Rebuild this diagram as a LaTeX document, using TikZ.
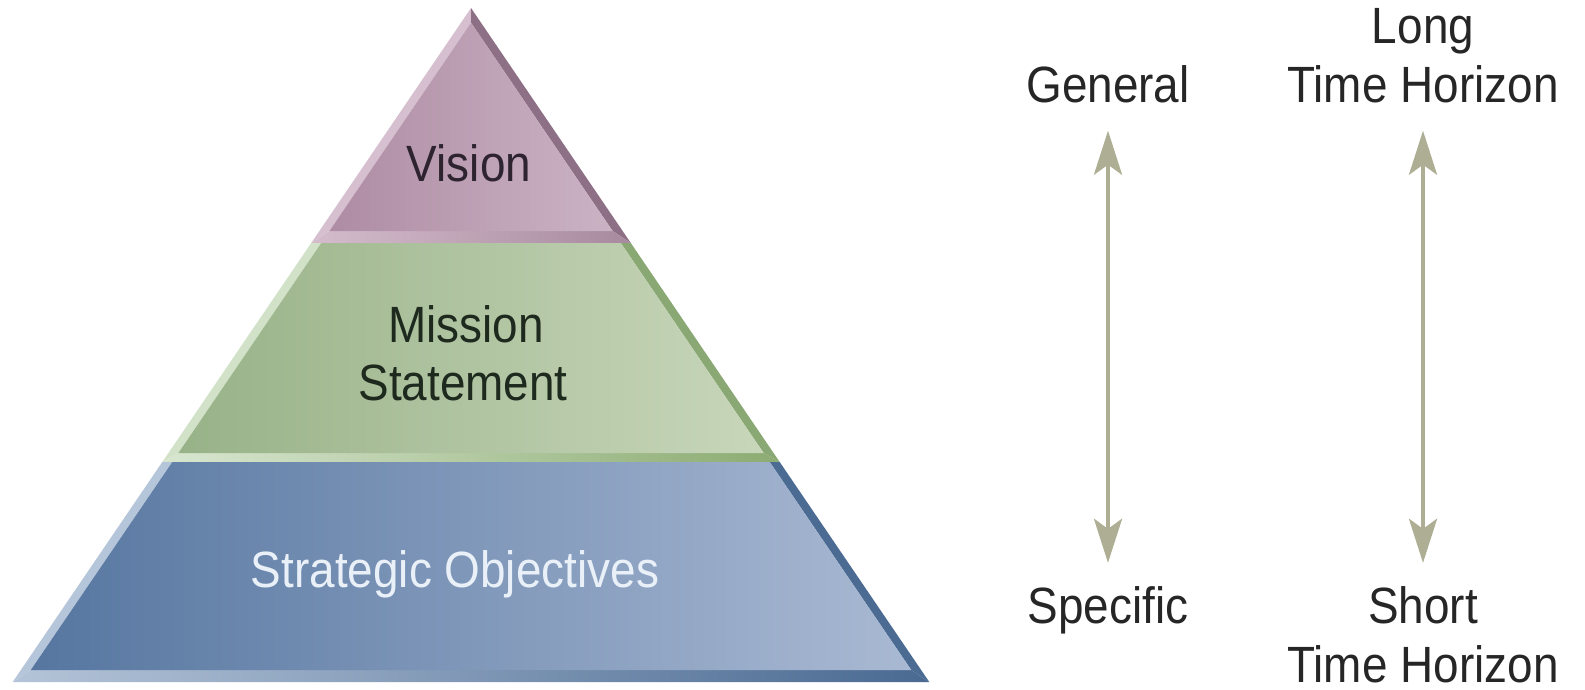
\documentclass[tikz,border=0pt]{standalone}
\usepackage{fontspec}
\setmainfont{Liberation Sans}[FakeStretch=0.9]
\usetikzlibrary{arrows.meta}

% layer colours: fill (left/right), bevels (left, right, bottom left/right)
\definecolor{visL}{HTML}{AE8CA4}
\definecolor{visR}{HTML}{CBB3C4}
\definecolor{visBevL}{HTML}{D6C0D0}
\definecolor{visBevR}{HTML}{8E7086}
\definecolor{visBotL}{HTML}{D4BCCC}
\definecolor{visBotR}{HTML}{A88A9E}
\definecolor{misL}{HTML}{98B288}
\definecolor{misR}{HTML}{C8D6BA}
\definecolor{misBevL}{HTML}{D2E2C8}
\definecolor{misBevR}{HTML}{8AA874}
\definecolor{misBotL}{HTML}{D8E6D0}
\definecolor{misBotR}{HTML}{8CAC72}
\definecolor{objL}{HTML}{5676A0}
\definecolor{objR}{HTML}{A9B9D3}
\definecolor{objBevL}{HTML}{B6C6DA}
\definecolor{objBevR}{HTML}{4B6B93}
\definecolor{objBotL}{HTML}{B4C4D8}
\definecolor{objBotR}{HTML}{4A6A92}
\definecolor{visText}{HTML}{2E2430}
\definecolor{misText}{HTML}{1F2A1F}
\definecolor{objText}{HTML}{EAF0F8}
\definecolor{sideText}{HTML}{262626}
\definecolor{arrowcol}{HTML}{AEAE94}

\begin{document}
\begin{tikzpicture}[x=1pt,y=-1pt,
  lbl/.style={inner sep=0pt, anchor=base, font=\fontsize{51}{59}\selectfont},
  span/.style={line width=4pt, draw=arrowcol,
    {Stealth[length=44pt,width=28pt,inset=10pt,fill=arrowcol]}-{Stealth[length=44pt,width=28pt,inset=10pt,fill=arrowcol]},
    shorten <=27pt, shorten >=23pt}]

\useasboundingbox (0,0) rectangle (1585,690);

% ---- Vision (top triangle) ----
\fill[visBevL] (471,8) -- (311.2,243) -- (329.4,231) -- (471,22.7) -- cycle;
\fill[visBevR] (471,8) -- (630.8,243) -- (612.6,231) -- (471,22.7) -- cycle;
\path[left color=visBotL, right color=visBotR]
  (311.2,243) -- (630.8,243) -- (612.6,231) -- (329.4,231) -- cycle;
\path[left color=visL, right color=visR]
  (471,22.7) -- (612.6,231) -- (329.4,231) -- cycle;

% ---- Mission statement (middle band) ----
\fill[misBevL] (311.2,243) -- (162.3,462) -- (178.4,453) -- (321.2,243) -- cycle;
\fill[misBevR] (630.8,243) -- (779.7,462) -- (763.6,453) -- (620.8,243) -- cycle;
\path[left color=misBotL, right color=misBotR]
  (162.3,462) -- (779.7,462) -- (763.6,453) -- (178.4,453) -- cycle;
\path[left color=misL, right color=misR]
  (321.2,243) -- (620.8,243) -- (763.6,453) -- (178.4,453) -- cycle;

% ---- Strategic objectives (base band) ----
\fill[objBevL] (162.3,462) -- (12.7,682) -- (30.8,670) -- (172.3,462) -- cycle;
\fill[objBevR] (779.7,462) -- (929.3,682) -- (911.2,670) -- (769.7,462) -- cycle;
\path[left color=objBotL, right color=objBotR]
  (12.7,682) -- (929.3,682) -- (911.2,670) -- (30.8,670) -- cycle;
\path[left color=objL, right color=objR]
  (172.3,462) -- (769.7,462) -- (911.2,670) -- (30.8,670) -- cycle;

% ---- layer labels ----
\node[lbl, text=visText] (vision) at (469,181) {Vision};
\node[lbl, text=misText] (missionA) at (466,342) {Mission};
\node[lbl, text=misText] (missionB) at (463,400) {Statement};
\node[lbl, text=objText] (objectives) at (455,587) {Strategic Objectives};

% ---- scales on the right ----
\node[lbl, text=sideText] (general) at (1108,103) {General};
\node[lbl, text=sideText] (specific) at (1108,623) {Specific};
\node[lbl, text=sideText] (long) at (1423,44) {Long};
\node[lbl, text=sideText] (longH) at (1423,103) {Time Horizon};
\node[lbl, text=sideText] (short) at (1423,623) {Short};
\node[lbl, text=sideText] (shortH) at (1423,682) {Time Horizon};

\draw[span] (general.south) -- (specific.north);
\draw[span] (longH.south) -- (short.north);

\end{tikzpicture}
\end{document}
